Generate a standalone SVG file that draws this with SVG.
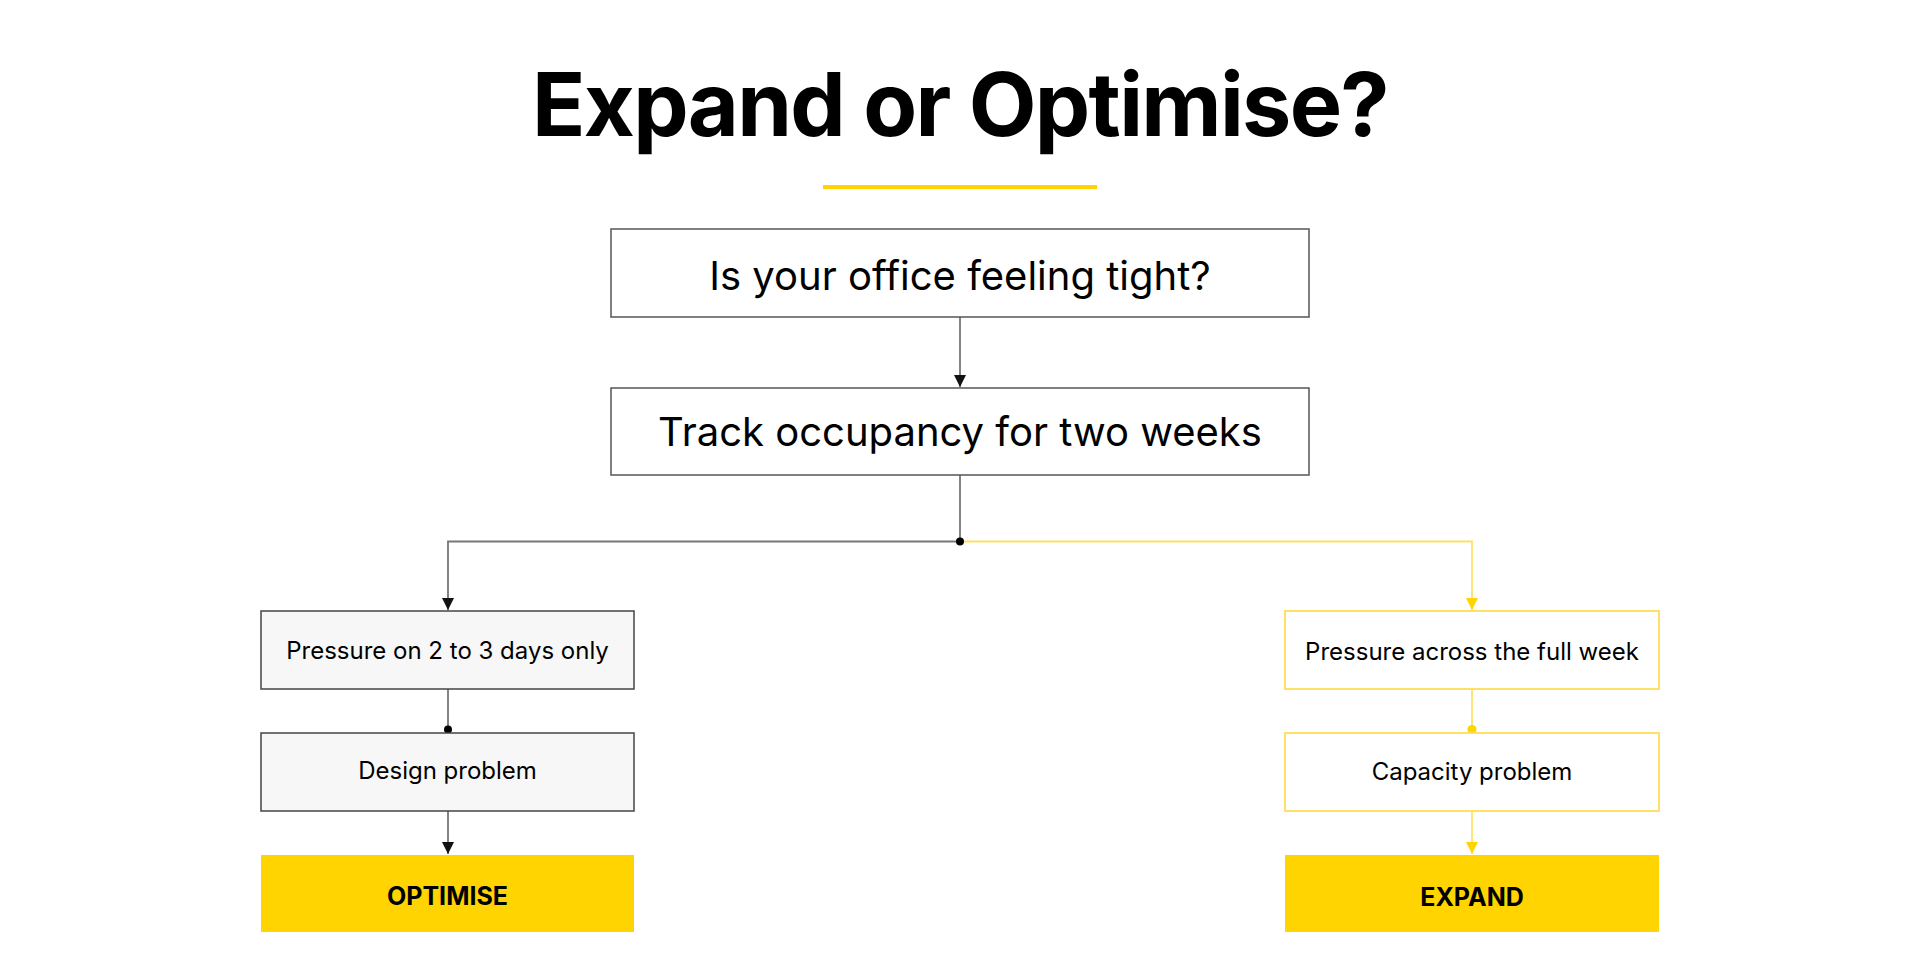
<svg xmlns="http://www.w3.org/2000/svg" width="1920" height="980" viewBox="0 0 1920 980">
<defs>
<style>
.t{font-family:Inter,"Liberation Sans",sans-serif;fill:#000;text-anchor:middle}
.big{font-size:40px}
.sm{font-size:24px}
.bold{font-size:25px;font-weight:700}
.gbox{fill:#fff;stroke:#555;stroke-width:1.5}
.lbox{fill:#f7f7f7;stroke:#444;stroke-width:1.5}
.ybox{fill:#fff;stroke:#FFE066;stroke-width:2}
.res{fill:#FFD400}
.cg{fill:none;stroke:#777;stroke-width:1.8}
.cy{fill:none;stroke:#FFE066;stroke-width:1.8}
</style>
<marker id="ag" markerUnits="userSpaceOnUse" markerWidth="12" markerHeight="12" viewBox="0 0 10 10" refX="10" refY="5" orient="auto">
<path d="M0,0 L10,5 L0,10 z" fill="#111"/>
</marker>
<marker id="ay" markerUnits="userSpaceOnUse" markerWidth="12" markerHeight="12" viewBox="0 0 10 10" refX="10" refY="5" orient="auto">
<path d="M0,0 L10,5 L0,10 z" fill="#FFD400"/>
</marker>
</defs>
<rect width="1920" height="980" fill="#fff"/>
<g id="title">
<text class="t" x="960" y="136" font-size="88" font-weight="700" letter-spacing="-1.7">Expand or Optimise?</text>
<rect x="823" y="185" width="274" height="4" fill="#FFD400"/>
</g>
<g id="connectors">
<path class="cg" d="M960,317 V387" marker-end="url(#ag)"/>
<path class="cg" d="M960,475 V541.5"/>
<path class="cg" d="M960,541.5 H448 V610" marker-end="url(#ag)"/>
<path class="cy" d="M960,541.5 H1472 V610" marker-end="url(#ay)"/>
<path class="cg" d="M448,689 V730"/>
<circle cx="448" cy="729.5" r="4" fill="#000"/>
<path class="cg" d="M448,811 V854" marker-end="url(#ag)"/>
<path class="cy" d="M1472,689 V730"/>
<circle cx="1472" cy="729.5" r="4.5" fill="#FFD400"/>
<path class="cy" d="M1472,811 V854" marker-end="url(#ay)"/>
<circle cx="960" cy="541.5" r="4" fill="#000"/>
</g>
<g id="n-tight">
<rect class="gbox" x="611" y="229" width="698" height="88"/>
<text class="t big" x="960" y="290">Is your office feeling tight?</text>
</g>
<g id="n-track">
<rect class="gbox" x="611" y="388" width="698" height="87"/>
<text class="t big" x="960" y="446">Track occupancy for two weeks</text>
</g>
<g id="n-pressure23">
<rect class="lbox" x="261" y="611" width="373" height="78"/>
<text class="t sm" x="447.5" y="659">Pressure on 2 to 3 days only</text>
</g>
<g id="n-design">
<rect class="lbox" x="261" y="733" width="373" height="78"/>
<text class="t sm" x="447.5" y="779">Design problem</text>
</g>
<g id="n-optimise">
<rect class="res" x="261" y="855" width="373" height="77"/>
<text class="t bold" x="447.5" y="905">OPTIMISE</text>
</g>
<g id="n-pressurefull">
<rect class="ybox" x="1285" y="611" width="374" height="78"/>
<text class="t sm" x="1472" y="660">Pressure across the full week</text>
</g>
<g id="n-capacity">
<rect class="ybox" x="1285" y="733" width="374" height="78"/>
<text class="t sm" x="1472" y="780">Capacity problem</text>
</g>
<g id="n-expand">
<rect class="res" x="1285" y="855" width="374" height="77"/>
<text class="t bold" x="1472" y="906">EXPAND</text>
</g>
</svg>
